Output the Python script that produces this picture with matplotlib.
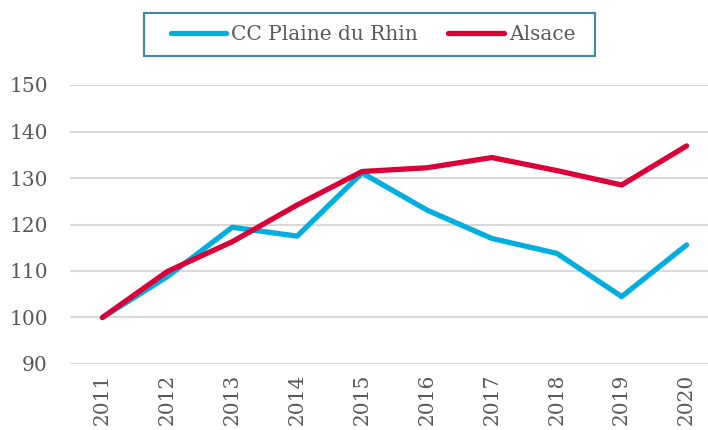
import numpy as np
import matplotlib
matplotlib.use('Agg')
import matplotlib.pyplot as plt
from matplotlib.patches import Rectangle

# Données
annees = ['2011', '2012', '2013', '2014', '2015', '2016', '2017', '2018', '2019', '2020']
plaine_rhin = [100, 108.8, 119.4, 117.5, 131.1, 123.1, 117.0, 113.8, 104.5, 115.6]
alsace = [100, 109.9, 116.3, 124.2, 131.4, 132.2, 134.4, 131.6, 128.5, 136.9]
y_ticks = [90, 100, 110, 120, 130, 140, 150]

plt.rcParams['font.family'] = ['DejaVu Serif']
gris = '#595959'

fig = plt.figure(figsize=(7.08, 4.30), dpi=100)
ax = fig.add_axes([70 / 708, 1 - 364 / 430, 638 / 708, (364 - 85) / 430])

x = np.arange(len(annees))
ax.plot(x, plaine_rhin, color='#00AEE0', lw=3.8, solid_capstyle='round',
        solid_joinstyle='round', label='CC Plaine du Rhin', zorder=3)
ax.plot(x, alsace, color='#DC0039', lw=3.8, solid_capstyle='round',
        solid_joinstyle='round', label='Alsace', zorder=4)

ax.set_ylim(90, 150)
ax.set_yticks(y_ticks)
ax.set_xlim(-0.5, 9.33)
ax.set_xticks(x)
ax.set_xticklabels(annees, rotation=90)
ax.grid(axis='y', color='#d9d9d9', lw=1.5)
ax.set_axisbelow(True)
for s in ax.spines.values():
    s.set_visible(False)
ax.tick_params(axis='y', length=0, pad=16, labelsize=14.5, labelcolor=gris)
ax.tick_params(axis='x', length=0, pad=7, labelsize=14.5, labelcolor=gris)

# légende sans cadre + cadre dessiné à part
leg = fig.legend(loc='center', bbox_to_anchor=(0.527, 0.92), ncol=2,
                 frameon=False, fontsize=14.5,
                 handlelength=2.75, handletextpad=0.25, columnspacing=1.5)
for t in leg.get_texts():
    t.set_color(gris)
fig.patches.append(Rectangle((144 / 708, 1 - 56 / 430), 451 / 708, 43 / 430,
                             transform=fig.transFigure, fill=False,
                             edgecolor='#3f8aa0', lw=1.5))

fig.savefig('out.png', dpi=100)
